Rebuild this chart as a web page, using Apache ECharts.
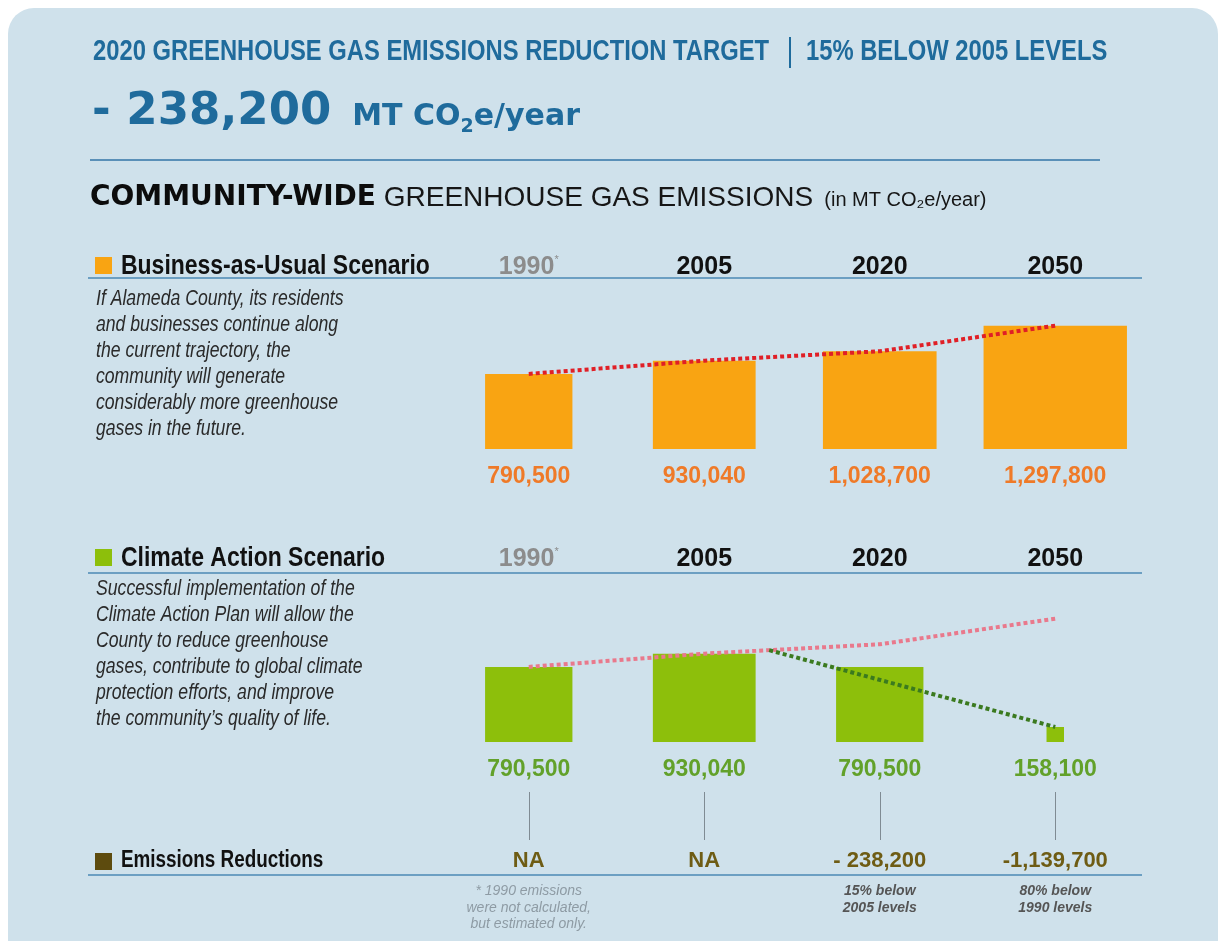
<!DOCTYPE html>
<html><head><meta charset="utf-8">
<script src="https://cdn.jsdelivr.net/npm/echarts@6/dist/echarts.min.js"></script>
<style>html,body{margin:0;padding:0;background:#fff}#c{width:1224px;height:941px}</style>
</head><body><div id="c"></div>
<script>
// ---- data ----
const years = ['1990', '2005', '2020', '2050'];
const bauValues = [790500, 930040, 1028700, 1297800];
const capValues = [790500, 930040, 790500, 158100];
// Climate Action trend: starts on the BAU trend between 2005 and 2020 (category position 1.37)
const capTrend = [[1.37, 966500], [3, 158100]];
const reductionLabels = ['NA', 'NA', '- 238,200', '-1,139,700'];
const reductionNotes = [
  ['* 1990 emissions', 'were not calculated,', 'but estimated only.'],
  [],
  ['15% below', '2005 levels'],
  ['80% below', '1990 levels']
];
const bauText = ['If Alameda County, its residents', 'and businesses continue along', 'the current trajectory, the',
  'community will generate', 'considerably more greenhouse', 'gases in the future.'];
const capText = ['Successful implementation of the', 'Climate Action Plan will allow the', 'County to reduce greenhouse',
  'gases, contribute to global climate', 'protection efforts, and improve', 'the community\u2019s quality of life.'];

// ---- styles ----
const SANS = "'Liberation Sans', Arial, sans-serif";
const HEAVY = "'DejaVu Sans', sans-serif";
const CONDENSE = 0.82; // horizontal squeeze emulating a condensed face
const BLUE = '#1f6b9c';
const RULE = '#6c9fc2';
const ORANGE = '#f9a412', ORANGE_TXT = '#ef7a28';
const GREEN = '#8dbf0b', GREEN_TXT = '#62a12a';
const OLIVE = '#5d4b0e', OLIVE_TXT = '#6e5c14';
const BAR_ASPECT = 1.163; // bar width / bar height
const Y_MAX = 1400000;

const chart = echarts.init(document.getElementById('c'), null, {renderer: 'canvas'});

function barRender(color, labelColor) {
  return function (params, api) {
    const i = api.value(0), v = api.value(1);
    const base = api.coord([i, 0]), top = api.coord([i, v]);
    const h = base[1] - top[1], w = h * BAR_ASPECT;
    return {
      type: 'rect',
      shape: {x: base[0] - w / 2, y: top[1], width: w, height: h},
      style: {fill: color},
      textContent: {style: {text: v.toLocaleString('en-US'), fill: labelColor, fontFamily: SANS, fontSize: 23, fontWeight: 'bold'}},
      textConfig: {position: 'bottom', distance: 16}
    };
  };
}

const yearLabel = {
  interval: 0, margin: 36,
  formatter: v => v === '1990' ? '{g|1990}{s|*}' : '{b|' + v + '}',
  rich: {
    g: {fontFamily: SANS, fontSize: 25, fontWeight: 'bold', color: '#8c8c8c', lineHeight: 26},
    s: {fontFamily: SANS, fontSize: 11, color: '#8c8c8c', verticalAlign: 'top', lineHeight: 26},
    b: {fontFamily: SANS, fontSize: 25, fontWeight: 'bold', color: '#111', lineHeight: 26}
  }
};
const hidden = {show: false};

function txt(x, y, text, o, sx) {
  return {type: 'text', x: x, y: y, z: 5, scaleX: sx || 1,
    style: Object.assign({text: text, textVerticalAlign: 'middle', textAlign: 'left'}, o)};
}
function hline(x1, x2, y, color, w) {
  return {type: 'line', z: 4, shape: {x1: x1, y1: y, x2: x2, y2: y}, style: {stroke: color, lineWidth: w}};
}

const graphic = [
  {type: 'rect', z: -10, shape: {x: 8, y: 8, width: 1210, height: 980, r: 26}, style: {fill: '#cfe1eb'}},
  txt(93, 52, '2020 GREENHOUSE GAS EMISSIONS REDUCTION TARGET', {fill: BLUE, fontFamily: SANS, fontSize: 29, fontWeight: 'bold'}, CONDENSE),
  {type: 'line', z: 4, shape: {x1: 790, y1: 37, x2: 790, y2: 68}, style: {stroke: BLUE, lineWidth: 2}},
  txt(806, 52, '15% BELOW 2005 LEVELS', {fill: BLUE, fontFamily: SANS, fontSize: 29, fontWeight: 'bold'}, CONDENSE),
  txt(92, 112, '{a|- 238,200}{b|  MT CO}{c|2}{b|e/year}', {rich: {
    a: {fill: BLUE, fontFamily: HEAVY, fontSize: 45, fontWeight: 'bold'},
    b: {fill: BLUE, fontFamily: HEAVY, fontSize: 30, fontWeight: 'bold', padding: [10, 0, 0, 0]},
    c: {fill: BLUE, fontFamily: HEAVY, fontSize: 19, fontWeight: 'bold', padding: [30, 0, 0, 0]}
  }}),
  hline(90, 1100, 160, '#5a90b8', 2),
  txt(90, 198, '{a|COMMUNITY-WIDE}{b| GREENHOUSE GAS EMISSIONS}{c|  (in MT CO\u2082e/year)}', {rich: {
    a: {fill: '#0c0c0c', fontFamily: HEAVY, fontSize: 28, fontWeight: 'bold'},
    b: {fill: '#161616', fontFamily: SANS, fontSize: 28},
    c: {fill: '#161616', fontFamily: SANS, fontSize: 20, padding: [4, 0, 0, 0]}
  }}),
  // BAU header
  {type: 'rect', z: 4, shape: {x: 95, y: 257, width: 17, height: 17}, style: {fill: ORANGE}},
  txt(121, 266, 'Business-as-Usual Scenario', {fill: '#111', fontFamily: SANS, fontSize: 28, fontWeight: 'bold'}, CONDENSE),
  hline(88, 1142, 278, RULE, 2),
  {type: 'text', x: 96, y: 286, z: 5, scaleX: CONDENSE, style: {text: bauText.join('\n'), fill: '#2a2a2a', fontFamily: SANS, fontSize: 21.5, fontStyle: 'italic', lineHeight: 26, textVerticalAlign: 'top'}},
  // CAP header
  {type: 'rect', z: 4, shape: {x: 95, y: 549, width: 17, height: 17}, style: {fill: GREEN}},
  txt(121, 558, 'Climate Action Scenario', {fill: '#111', fontFamily: SANS, fontSize: 28, fontWeight: 'bold'}, CONDENSE),
  hline(88, 1142, 573, RULE, 2),
  {type: 'text', x: 96, y: 576, z: 5, scaleX: CONDENSE, style: {text: capText.join('\n'), fill: '#2a2a2a', fontFamily: SANS, fontSize: 21.5, fontStyle: 'italic', lineHeight: 26, textVerticalAlign: 'top'}},
  // reductions
  {type: 'rect', z: 4, shape: {x: 95, y: 853, width: 17, height: 17}, style: {fill: OLIVE}},
  txt(121, 861, 'Emissions Reductions', {fill: '#111', fontFamily: SANS, fontSize: 23, fontWeight: 'bold'}, CONDENSE),
  hline(88, 1142, 875, RULE, 2)
];

const option = {
  animation: false,
  backgroundColor: '#ffffff',
  graphic: graphic,
  grid: [
    {left: 441, width: 702, top: 316, height: 133},
    {left: 441, width: 702, top: 609, height: 133},
    {left: 441, width: 702, top: 792, height: 48}
  ],
  xAxis: [
    {type: 'category', gridIndex: 0, position: 'top', data: years, boundaryGap: true,
      axisLine: hidden, axisTick: hidden, axisLabel: yearLabel},
    {type: 'category', gridIndex: 1, position: 'top', data: years, boundaryGap: true,
      axisLine: hidden, axisTick: hidden, axisLabel: Object.assign({}, yearLabel, {margin: 37})},
    {type: 'value', gridIndex: 1, position: 'bottom', min: -0.5, max: 3.5, show: false},
    {type: 'category', gridIndex: 2, position: 'bottom', data: years, boundaryGap: true,
      axisLine: hidden,
      axisTick: {show: true, inside: true, length: 48, alignWithLabel: true, lineStyle: {color: '#7f8b93', width: 1}},
      axisLabel: {interval: 0, margin: 10, formatter: (v, i) => reductionLabels[i],
        color: OLIVE_TXT, fontFamily: SANS, fontSize: 22, fontWeight: 'bold', lineHeight: 22}},
    {type: 'category', gridIndex: 2, position: 'bottom', offset: 40, data: years, boundaryGap: true,
      axisLine: hidden, axisTick: hidden,
      axisLabel: {interval: 0, margin: 3,
        formatter: (v, i) => reductionNotes[i].map(t => (i === 0 ? '{n|' : '{m|') + t + '}').join('\n'),
        rich: {
          n: {color: '#8e9ba4', fontFamily: SANS, fontSize: 14, fontStyle: 'italic', lineHeight: 16.5},
          m: {color: '#555', fontFamily: SANS, fontSize: 14, fontStyle: 'italic', fontWeight: 'bold', lineHeight: 16.5}
        }}}
  ],
  yAxis: [
    {type: 'value', gridIndex: 0, min: 0, max: Y_MAX, show: false},
    {type: 'value', gridIndex: 1, min: 0, max: Y_MAX, show: false},
    {type: 'value', gridIndex: 2, min: 0, max: 1, show: false}
  ],
  series: [
    {type: 'custom', name: 'Business-as-Usual', xAxisIndex: 0, yAxisIndex: 0, z: 2,
      renderItem: barRender(ORANGE, ORANGE_TXT), encode: {x: 0, y: 1},
      data: bauValues.map((v, i) => [i, v])},
    {type: 'line', name: 'BAU trend', xAxisIndex: 0, yAxisIndex: 0, z: 3, symbol: 'none',
      lineStyle: {color: '#e01f26', width: 4, type: [4, 3], cap: 'butt'}, data: bauValues},
    {type: 'custom', name: 'Climate Action', xAxisIndex: 1, yAxisIndex: 1, z: 2,
      renderItem: barRender(GREEN, GREEN_TXT), encode: {x: 0, y: 1},
      data: capValues.map((v, i) => [i, v])},
    {type: 'line', name: 'BAU trend (reference)', xAxisIndex: 1, yAxisIndex: 1, z: 3, symbol: 'none',
      lineStyle: {color: '#e9798c', width: 4, type: [4, 3], cap: 'butt'}, data: bauValues},
    {type: 'line', name: 'Climate Action trend', xAxisIndex: 2, yAxisIndex: 1, z: 4, symbol: 'none',
      lineStyle: {color: '#3b7a1f', width: 4, type: [4, 3], cap: 'butt'}, data: capTrend}
  ]
};
chart.setOption(option);
</script>
</body></html>
